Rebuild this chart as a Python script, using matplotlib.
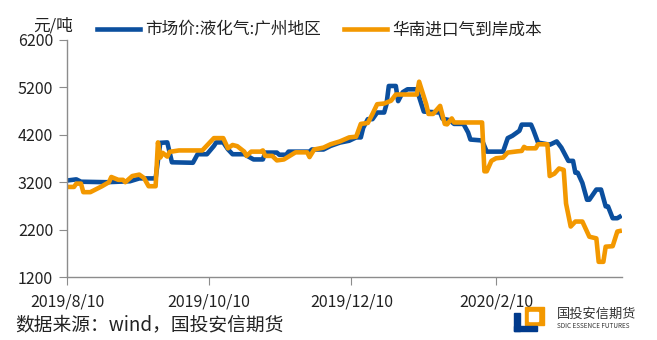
import matplotlib
matplotlib.use("Agg")
import matplotlib.pyplot as plt
import matplotlib.patches as mpatches
import pandas as pd

plt.rcParams['font.family'] = ['Noto Sans CJK SC', 'DejaVu Sans']

# 市场价:液化气:广州地区
blue_dates = [
    "2019-08-10", "2019-08-14", "2019-08-16", "2019-08-27", "2019-09-06", "2019-09-10",
    "2019-09-17", "2019-09-19", "2019-09-22", "2019-09-24", "2019-10-03", "2019-10-05",
    "2019-10-09", "2019-10-12", "2019-10-13", "2019-10-16", "2019-10-18", "2019-10-20",
    "2019-10-25", "2019-10-29", "2019-11-02", "2019-11-03", "2019-11-08", "2019-11-09",
    "2019-11-12", "2019-11-13", "2019-11-22", "2019-11-23", "2019-11-28", "2019-12-01",
    "2019-12-05", "2019-12-09", "2019-12-12", "2019-12-14", "2019-12-15", "2019-12-17",
    "2019-12-19", "2019-12-21", "2019-12-24", "2019-12-25", "2019-12-26", "2019-12-29",
    "2019-12-30", "2020-01-01", "2020-01-03", "2020-01-07", "2020-01-08", "2020-01-10",
    "2020-01-17", "2020-01-18", "2020-01-21", "2020-01-23", "2020-01-27", "2020-01-29",
    "2020-01-30", "2020-02-04", "2020-02-06", "2020-02-13", "2020-02-15", "2020-02-17",
    "2020-02-20", "2020-02-21", "2020-02-25", "2020-02-26", "2020-02-28", "2020-03-03",
    "2020-03-04", "2020-03-07", "2020-03-09", "2020-03-12", "2020-03-14", "2020-03-15",
    "2020-03-16", "2020-03-18", "2020-03-20", "2020-03-21", "2020-03-24", "2020-03-26",
    "2020-03-28", "2020-03-29", "2020-03-31", "2020-04-02", "2020-04-03",
]
blue_values = [
    3235, 3260, 3210, 3200, 3220, 3280,
    3280, 4030, 4040, 3620, 3610, 3790,
    3790, 3965, 4040, 4040, 3895, 3790,
    3790, 3680, 3680, 3825, 3825, 3780,
    3780, 3845, 3845, 3890, 3890, 3965,
    4035, 4075, 4145, 4145, 4345, 4530,
    4530, 4670, 4670, 4845, 5230, 5230,
    4910, 5100, 5160, 5160, 5000, 4690,
    4670, 4540, 4510, 4430, 4430, 4250,
    4100, 4080, 3845, 3845, 4130, 4180,
    4285, 4415, 4415, 4300, 4035, 4000,
    3990, 4060, 3930, 3650, 3650, 3400,
    3400, 3185, 2830, 2830, 3045, 3045,
    2690, 2690, 2440, 2440, 2470,
]

# 华南进口气到岸成本
orange_dates = [
    "2019-08-10", "2019-08-13", "2019-08-14", "2019-08-16", "2019-08-17", "2019-08-20",
    "2019-08-25", "2019-08-28", "2019-08-29", "2019-09-01", "2019-09-03", "2019-09-04",
    "2019-09-07", "2019-09-10", "2019-09-12", "2019-09-14", "2019-09-17", "2019-09-18",
    "2019-09-19", "2019-09-20", "2019-09-22", "2019-09-23", "2019-09-27", "2019-10-07",
    "2019-10-12", "2019-10-16", "2019-10-18", "2019-10-20", "2019-10-22", "2019-10-25",
    "2019-10-26", "2019-10-28", "2019-11-01", "2019-11-02", "2019-11-03", "2019-11-06",
    "2019-11-08", "2019-11-11", "2019-11-14", "2019-11-16", "2019-11-21", "2019-11-22",
    "2019-11-24", "2019-11-28", "2019-12-01", "2019-12-05", "2019-12-09", "2019-12-12",
    "2019-12-14", "2019-12-17", "2019-12-19", "2019-12-21", "2019-12-24", "2019-12-27",
    "2019-12-29", "2020-01-07", "2020-01-08", "2020-01-11", "2020-01-12", "2020-01-14",
    "2020-01-17", "2020-01-19", "2020-01-20", "2020-01-22", "2020-01-23", "2020-02-04",
    "2020-02-05", "2020-02-06", "2020-02-08", "2020-02-10", "2020-02-13", "2020-02-15",
    "2020-02-19", "2020-02-21", "2020-02-22", "2020-02-23", "2020-02-27", "2020-02-28",
    "2020-03-03", "2020-03-04", "2020-03-06", "2020-03-08", "2020-03-10", "2020-03-11",
    "2020-03-13", "2020-03-15", "2020-03-18", "2020-03-21", "2020-03-24", "2020-03-25",
    "2020-03-27", "2020-03-28", "2020-03-31", "2020-04-02", "2020-04-03",
]
orange_values = [
    3100, 3100, 3170, 3170, 2990, 2990,
    3115, 3200, 3310, 3250, 3250, 3200,
    3330, 3360, 3290, 3115, 3115, 4040,
    3720, 3820, 3740, 3840, 3870, 3870,
    4130, 4130, 3915, 3985, 3960, 3845,
    3755, 3845, 3845, 3870, 3755, 3755,
    3660, 3680, 3770, 3830, 3830, 3730,
    3890, 3930, 4000, 4060, 4145, 4160,
    4430, 4450, 4640, 4845, 4860, 4920,
    5050, 5050, 5320, 4850, 4640, 4640,
    4810, 4430, 4420, 4545, 4460, 4460,
    3430, 3430, 3650, 3705, 3720, 3825,
    3850, 3860, 3945, 3915, 3915, 4000,
    4000, 3330, 3380, 3490, 3460, 2750,
    2265, 2370, 2370, 2050, 2015, 1520,
    1520, 1840, 1850, 2160, 2170,
]

blue_name = "市场价:液化气:广州地区"
orange_name = "华南进口气到岸成本"
x_ticks = ["2019-08-10", "2019-10-10", "2019-12-10", "2020-02-10"]
x_labels = ["2019/8/10", "2019/10/10", "2019/12/10", "2020/2/10"]
y_ticks = [1200, 2200, 3200, 4200, 5200, 6200]

BLUE = "#0B4F9E"
ORANGE = "#F39800"
AXIS = "#8C8C8C"

fig = plt.figure(figsize=(6.57, 3.40), dpi=100)
ax = fig.add_axes([67 / 657, 1 - 277 / 340, 555 / 657, 237 / 340])

ax.plot(pd.to_datetime(blue_dates), blue_values, color=BLUE, lw=3.3,
        solid_joinstyle="round", label=blue_name)
ax.plot(pd.to_datetime(orange_dates), orange_values, color=ORANGE, lw=3.3,
        solid_joinstyle="round", label=orange_name)

ax.set_xlim(pd.Timestamp("2019-08-10"), pd.Timestamp("2020-04-04"))
ax.set_ylim(1200, 6200)
ax.set_yticks(y_ticks)
ax.set_xticks(pd.to_datetime(x_ticks))
ax.set_xticklabels(x_labels)

for side in ["top", "right"]:
    ax.spines[side].set_visible(False)
for side in ["left", "bottom"]:
    ax.spines[side].set_color(AXIS)
    ax.spines[side].set_linewidth(1.0)
ax.tick_params(axis="y", length=6, color=AXIS, labelsize=11.5, pad=4, labelcolor="#222222")
ax.tick_params(axis="x", length=6, color=AXIS, labelsize=11.5, pad=6, labelcolor="#222222")

fig.text(33 / 657, 1 - 26 / 340, "元/吨", fontsize=12, va="center", ha="left", color="#222222")

fig.legend(loc="center left", bbox_to_anchor=(90 / 657, 1 - 30 / 340), ncol=2,
           frameon=False, fontsize=12, handlelength=2.6, columnspacing=1.4,
           handletextpad=0.3, borderaxespad=0, labelcolor="#222222")

fig.text(15 / 657, 1 - 325 / 340, "数据来源：wind，国投安信期货", fontsize=13.5,
         va="center", ha="left", color="#222222")

# logo
lx, ly = 514 / 657, 1 - 331 / 340
w, h = 30 / 657, 24 / 340
fig.patches.append(mpatches.Rectangle((lx + w * 0.35, ly + h * 0.25), w * 0.65, h * 0.75,
                                      color=ORANGE, transform=fig.transFigure))
fig.patches.append(mpatches.Rectangle((lx + w * 0.5, ly + h * 0.4), w * 0.3, h * 0.4,
                                      color="white", transform=fig.transFigure))
fig.patches.append(mpatches.Rectangle((lx, ly), w * 0.2, h * 0.75,
                                      color="#003A8C", transform=fig.transFigure))
fig.patches.append(mpatches.Rectangle((lx, ly), w * 0.75, h * 0.22,
                                      color="#003A8C", transform=fig.transFigure))
fig.text(557 / 657, 1 - 314 / 340, "国投安信期货", fontsize=9.5, va="center", ha="left", color="#333333")
fig.text(557 / 657, 1 - 326 / 340, "SDIC ESSENCE FUTURES", fontsize=4.6, va="center", ha="left",
         color="#333333")

fig.savefig("out.png", dpi=100)
